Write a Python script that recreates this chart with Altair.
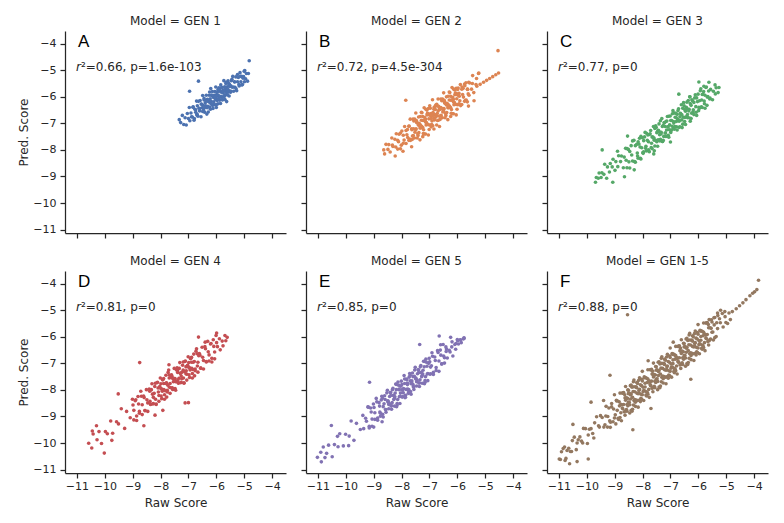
import altair as alt
import pandas as pd

# ---------------- data (read/estimated from the reference picture) ----------------
gen1_x = [
-7.33,-7.28,-7.22,-7.17,-7.12,-7.08,-7.04,-7.00,-6.97,-6.95,-6.91,-6.96,-6.86,-6.83,-6.80,-6.77,-6.74,-6.71,-6.70,
-6.68,-6.66,-6.64,-6.62,-6.60,-6.58,-6.55,-6.53,-6.51,-6.49,-6.46,-6.44,-6.42,-6.40,-6.38,-6.36,-6.34,-6.32,-6.30,-6.28,-6.26,-6.24,-6.22,-6.21,-6.20,
-6.18,-6.17,-6.15,-6.14,-6.12,-6.11,-6.09,-6.08,-6.06,-6.05,-6.03,-6.02,-6.00,-5.99,-5.97,-5.96,-5.94,-5.93,-5.91,-5.90,-5.88,-5.87,-5.85,-5.84,-5.82,-5.81,-5.79,-5.78,-5.76,-5.75,-5.73,-5.72,-5.70,-5.69,-5.67,-5.66,-5.64,-5.63,-5.61,-5.60,-5.58,-5.57,-5.55,-5.54,-5.52,
-5.49,-5.46,-5.43,-5.41,-5.38,-5.35,-5.33,-5.30,-5.27,-5.24,-5.21,-5.18,-5.15,-5.12,-5.09,-5.06,-5.02,-4.98,-4.95,-4.92,-4.88,-4.85,-4.82,-5.00,
-6.48,-6.43,-6.38,-6.33,-6.28,-6.23,-6.18,-6.13,-6.08,-6.03,-5.98,-5.93,-5.88,-5.83,-5.78,-5.73,-5.68,-5.63,-5.58,-5.53,-5.48,
-6.89,-6.84,-6.79,-6.74,-6.69,-6.64,-6.59,-6.54,-6.49,-6.44,-6.39,-6.34,-6.29,-6.24,-6.19,-6.14,-6.09,-6.04,-5.99,-5.94,-5.89,-5.84,-5.79,-5.74,-5.69,-5.64,-5.59,-5.54,-5.49,-5.44,-5.39,-5.34,-5.29,-5.24,-5.19,-5.14,-5.09,-5.04,-4.99]
gen1_y = [
-6.86,-6.97,-6.70,-7.04,-6.79,-7.06,-6.63,-6.82,-6.40,-6.90,-6.61,-5.79,-6.76,-6.38,-6.88,-6.47,-6.58,-6.16,-6.68,
-6.34,-6.73,-5.41,-6.43,-6.53,-6.14,-6.75,-6.28,-6.41,-5.95,-6.51,-6.12,-6.58,-6.23,-6.35,-5.94,-6.65,-6.09,-6.36,-6.18,-5.94,-6.39,-6.07,-6.47,-5.69,
-6.18,-5.94,-6.31,-5.80,-6.44,-6.02,-6.19,-5.94,-6.30,-5.80,-6.04,-5.63,-6.40,-5.91,-6.14,-5.81,-6.26,-5.93,-5.66,-6.01,-6.13,-5.79,-6.25,-5.55,-5.83,-6.00,-5.65,-6.12,-5.75,-5.86,-5.39,-5.98,-5.62,-6.10,-5.76,-5.50,-5.84,-6.18,-5.62,-5.93,-5.40,-5.75,-5.50,-5.97,-5.61,
-5.78,-5.39,-5.64,-5.23,-5.79,-5.43,-5.64,-5.25,-5.77,-5.43,-5.27,-5.59,-5.09,-5.43,-5.23,-5.54,-5.24,-5.01,-5.32,-5.12,-5.41,-5.12,-4.64,-5.04,
-6.32,-6.42,-6.14,-6.41,-6.14,-6.21,-5.94,-6.32,-5.95,-6.10,-5.98,-6.09,-5.76,-5.98,-5.81,-6.01,-5.68,-5.75,-5.83,-5.54,-5.58,
-6.75,-6.39,-6.82,-6.49,-6.66,-6.17,-6.44,-6.27,-6.55,-6.06,-6.35,-6.16,-6.57,-5.82,-6.26,-5.95,-6.27,-6.02,-6.29,-5.72,-6.03,-5.67,-6.10,-5.77,-5.94,-5.45,-5.72,-5.55,-5.83,-5.34,-5.63,-5.44,-5.70,-5.16,-5.54,-5.23,-5.55,-5.30,-5.43]

gen2_x = [
-8.64,-8.61,-8.56,-8.49,-8.46,-8.41,-8.33,-8.31,-8.24,-8.21,-8.14,-8.11,-8.04,-8.01,-7.94,-7.91,-7.84,-7.81,-7.74,-7.71,-7.64,-7.61,-7.56,-7.49,-7.46,-7.41,-7.33,-7.31,-7.24,-7.21,-7.14,-7.11,-7.04,-7.01,-6.94,-6.91,-6.84,-6.81,-6.74,-6.71,-6.64,-6.61,-6.56,-6.49,-6.46,-6.41,-6.33,-6.31,-6.24,-6.21,-6.14,-6.11,-6.04,-6.01,-5.94,-5.91,-5.84,-5.81,-5.74,-5.71,-5.64,-5.61,-5.56,-5.49,-5.46,-5.41,-5.33,-5.31,-5.24,
-7.78,-7.73,-7.68,-7.63,-7.58,-7.53,-7.48,-7.43,-7.38,-7.33,-7.28,-7.23,-7.18,-7.13,-7.08,-7.03,-6.98,-6.93,-6.88,-6.83,-6.78,-6.73,-6.68,-6.63,-6.58,-6.53,-6.48,-6.43,-6.38,-6.33,-6.28,-6.23,-6.18,-6.13,-6.08,-6.03,-5.98,-5.93,-5.88,-5.83,-5.78,-5.73,-5.68,-5.63,-5.58,
-7.39,-7.34,-7.29,-7.24,-7.19,-7.14,-7.09,-7.04,-6.99,-6.94,-6.89,-6.84,-6.79,-6.74,-6.69,-6.64,-6.59,-6.54,-6.49,-6.44,-6.39,-6.34,-6.29,-6.24,-6.19,-6.14,-6.09,-6.04,-5.99,
-5.30,-5.18,-5.06,-4.95,-4.84,-4.73,-4.62,-4.52,-4.54,-7.85,-5.23,-5.45,-8.23,-8.35,-7.95,-5.60,-5.40,
-8.19,-8.14,-8.09,-8.04,-7.99,-7.94,-7.89,-7.84,-7.79,-7.74,-7.69,-7.64,-7.59,-7.54,-7.49,-7.44,-7.39,-7.34,-7.29,-7.24,-7.19,-7.14,-7.09,-7.04,-6.99,-6.94,-6.89,-6.84,-6.79,-6.74,-6.69,-6.64,-6.59,-6.54,-6.49,-6.44,-6.39,-6.34,-6.29,-6.24,-6.19,-6.14,-6.09,-6.04,-5.99,-5.94,-5.89,-5.84,-5.79,-5.74,-5.69,-5.64,-5.59,
-7.62,-7.57,-7.52,-7.47,-7.42,-7.37,-7.32,-7.27,-7.22,-7.17,-7.12,-7.07,-7.02,-6.97,-6.92,-6.87,-6.82,-6.77,-6.72,-6.67,-6.62,-6.57,-6.52,-6.47,-6.42,-6.37,-6.32,-6.27,-6.22,-6.17,-6.12,-6.07,-6.02,-5.97,-5.92]
gen2_y = [
-8.00,-8.15,-7.79,-7.98,-7.80,-8.08,-7.82,-7.87,-7.60,-7.89,-7.64,-7.69,-7.36,-7.82,-7.45,-7.63,-7.27,-7.43,-7.11,-7.59,-7.20,-7.48,-6.91,-7.24,-6.97,-7.46,-7.05,-7.17,-6.74,-7.24,-6.85,-6.97,-6.44,-7.23,-6.63,-6.91,-6.47,-6.67,-6.28,-6.89,-6.44,-6.72,-6.15,-6.48,-6.21,-6.70,-6.29,-6.41,-5.98,-6.48,-6.09,-6.21,-5.68,-6.47,-5.87,-6.15,-5.71,-5.91,-5.52,-6.13,-5.71,-5.89,-5.48,-5.71,-5.50,-5.84,-5.54,-5.31,-5.12,
-7.53,-7.10,-7.64,-7.24,-7.46,-6.84,-7.20,-6.99,-7.35,-6.74,-7.11,-6.89,-7.40,-6.47,-7.03,-6.64,-7.06,-6.74,-7.09,-6.39,-6.77,-6.34,-6.88,-6.48,-6.70,-6.08,-6.44,-6.23,-6.59,-5.98,-6.35,-6.13,-6.64,-5.71,-6.27,-5.88,-6.30,-5.98,-6.33,-5.63,-6.01,-5.58,-6.12,-5.72,-5.94,
-7.07,-7.17,-6.88,-7.16,-6.88,-6.95,-6.68,-7.05,-6.69,-6.83,-6.71,-6.82,-6.48,-6.71,-6.53,-6.73,-6.40,-6.46,-6.55,-6.25,-6.31,-6.41,-6.12,-6.40,-6.12,-6.19,-5.92,-6.29,-5.93,
-5.60,-5.53,-5.45,-5.38,-5.31,-5.24,-5.17,-5.10,-4.26,-6.13,-5.10,-5.20,-8.23,-7.55,-8.05,-6.35,-6.15,
-7.39,-7.97,-7.41,-7.96,-7.29,-7.75,-7.12,-7.76,-7.23,-7.64,-6.84,-7.88,-6.84,-7.55,-6.61,-7.55,-6.76,-7.62,-6.58,-7.50,-6.41,-7.40,-6.50,-7.44,-6.34,-7.13,-6.11,-7.21,-6.35,-7.06,-6.08,-7.12,-6.08,-6.79,-5.85,-6.79,-6.00,-6.86,-5.82,-6.74,-5.65,-6.64,-5.74,-6.68,-5.72,-6.26,-5.54,-6.29,-5.68,-6.17,-5.47,-6.19,-5.45,
-7.61,-7.20,-7.33,-6.89,-7.39,-7.00,-7.12,-6.60,-7.38,-6.78,-7.06,-6.62,-6.83,-6.43,-7.04,-6.59,-6.87,-6.31,-6.63,-6.36,-6.85,-6.44,-6.57,-6.13,-6.63,-6.24,-6.36,-5.84,-6.62,-6.02,-6.30,-5.86,-6.07,-5.67,-6.28]

gen3_x = [
-9.69,-9.66,-9.59,-9.56,-9.49,-9.46,-9.39,-9.36,-9.29,-9.26,-9.19,-9.16,-9.09,-9.06,-8.99,-8.96,-8.89,-8.86,-8.79,-8.76,-8.69,-8.66,-8.59,-8.56,-8.49,-8.46,-8.39,-8.36,-8.29,-8.26,-8.19,-8.16,-8.09,-8.06,-7.99,-7.96,-7.89,-7.86,-7.79,-7.76,-7.69,-7.66,-7.59,-7.56,-7.49,-7.46,-7.39,-7.36,-7.29,-7.26,-7.19,-7.16,-7.09,-7.06,-6.99,-6.96,-6.89,-6.86,-6.79,-6.76,-6.69,-6.66,-6.59,-6.56,-6.49,-6.46,-6.39,-6.36,-6.29,-6.26,-6.19,-6.16,-6.09,-6.06,-5.99,-5.96,-5.89,-5.86,-5.79,-5.76,-5.69,-5.66,-5.59,-5.56,-5.49,-5.46,-5.39,-5.36,-5.29,-5.26,
-8.18,-8.13,-8.08,-8.03,-7.98,-7.93,-7.88,-7.83,-7.78,-7.73,-7.68,-7.63,-7.58,-7.53,-7.48,-7.43,-7.38,-7.33,-7.28,-7.23,-7.18,-7.13,-7.08,-7.03,-6.98,-6.93,-6.88,-6.83,-6.78,-6.73,-6.68,-6.63,-6.58,-6.53,-6.48,-6.43,-6.38,-6.33,-6.28,-6.23,-6.18,-6.13,-6.08,-6.03,-5.98,-5.93,-5.88,-5.83,-5.78,-5.73,-5.68,-5.63,-5.58,
-7.59,-7.54,-7.49,-7.44,-7.39,-7.34,-7.29,-7.24,-7.19,-7.14,-7.09,-7.04,-6.99,-6.94,-6.89,-6.84,-6.79,-6.74,-6.69,-6.64,-6.59,-6.54,-6.49,-6.44,-6.39,-6.34,-6.29,-6.24,
-5.98,-5.62,-5.40,-5.80,-9.45,-8.54,-9.07,-8.65,-8.30,-6.30,-7.60,-7.00,-6.70,-8.90,
-8.61,-8.56,-8.51,-8.46,-8.41,-8.36,-8.31,-8.26,-8.21,-8.16,-8.11,-8.06,-8.01,-7.96,-7.91,-7.86,-7.81,-7.76,-7.71,-7.66,-7.61,-7.56,-7.51,-7.46,-7.41,-7.36,-7.31,-7.26,-7.21,-7.16,-7.11,-7.06,-7.01,-6.96,-6.91,-6.86,-6.81,-6.76,-6.71,-6.66,-6.61,-6.56,-6.51,-6.46,-6.41,-6.36,-6.31,-6.26,-6.21,-6.16,-6.11,-6.06,-6.01,-5.96,-5.91,-5.86,-5.81,-5.76,-5.71]
gen3_y = [
-9.22,-9.04,-9.07,-8.87,-9.04,-8.86,-8.92,-8.54,-9.07,-8.64,-8.83,-8.51,-8.64,-8.35,-8.77,-8.44,-8.63,-8.22,-8.44,-8.23,-8.67,-8.27,-8.39,-7.95,-8.45,-8.06,-8.19,-7.66,-8.44,-7.84,-8.12,-7.69,-7.89,-7.49,-8.10,-7.65,-7.94,-7.37,-7.69,-7.42,-7.91,-7.51,-7.63,-7.19,-7.69,-7.30,-7.43,-6.90,-7.68,-7.08,-7.36,-6.93,-7.13,-6.73,-7.34,-6.89,-7.18,-6.61,-6.93,-6.66,-7.15,-6.75,-6.87,-6.43,-6.93,-6.54,-6.67,-6.14,-6.92,-6.32,-6.56,-6.21,-6.37,-6.04,-6.52,-6.15,-6.38,-5.91,-6.16,-5.94,-6.32,-5.99,-6.08,-5.72,-6.11,-5.79,-5.89,-5.66,-5.84,-5.65,
-8.23,-7.78,-8.32,-7.92,-8.13,-7.51,-7.86,-7.64,-8.00,-7.39,-7.75,-7.52,-8.03,-7.09,-7.65,-7.26,-7.66,-7.34,-7.68,-6.98,-7.36,-6.91,-7.45,-7.05,-7.26,-6.64,-6.99,-6.77,-7.13,-6.52,-6.88,-6.65,-7.16,-6.22,-6.78,-6.39,-6.79,-6.47,-6.81,-6.11,-6.49,-6.04,-6.58,-6.18,-6.39,-5.77,-6.12,-5.90,-6.26,-5.65,-6.01,-5.78,-6.05,
-7.55,-7.64,-7.35,-7.62,-7.33,-7.40,-7.12,-7.49,-7.12,-7.25,-7.13,-7.24,-6.89,-7.11,-6.93,-7.12,-6.79,-6.85,-6.92,-6.62,-6.68,-6.77,-6.48,-6.75,-6.46,-6.53,-6.25,-6.62,
-5.44,-5.45,-5.55,-5.60,-8.00,-7.48,-9.22,-9.01,-8.75,-6.00,-8.15,-7.70,-5.90,-8.05,
-7.94,-8.67,-7.98,-8.68,-7.84,-8.42,-7.64,-8.46,-7.79,-8.31,-7.56,-8.34,-7.54,-8.07,-7.34,-8.04,-7.44,-8.07,-7.27,-7.95,-7.12,-7.85,-7.16,-7.86,-7.02,-7.60,-6.82,-7.64,-6.97,-7.49,-6.74,-7.52,-6.72,-7.25,-6.52,-7.22,-6.62,-7.25,-6.45,-7.13,-6.30,-7.03,-6.34,-7.04,-6.20,-6.78,-6.00,-6.82,-6.15,-6.67,-5.92,-6.70,-5.90,-6.43,-5.70,-6.40,-5.80,-6.43,-5.63]

gen4_x = [
-10.58,-10.47,-10.42,-10.28,-10.21,-10.12,-9.98,-10.02,-9.91,-9.79,-9.72,-9.58,-9.51,-9.41,-9.29,-9.22,-9.09,-9.52,-10.30,-9.75,-10.45,
-8.99,-8.96,-8.89,-8.86,-8.79,-8.76,-8.69,-8.66,-8.59,-8.56,-8.49,-8.46,-8.39,-8.36,-8.29,-8.26,-8.19,-8.16,-8.09,-8.06,-7.99,-7.96,-7.89,-7.86,-7.79,-7.76,-7.69,-7.66,-7.59,-7.56,-7.49,-7.46,-7.39,-7.36,-7.29,-7.26,-7.19,-7.16,-7.09,-7.06,-6.99,-6.96,-6.89,-6.86,-6.79,-6.76,-6.69,-6.66,-6.59,-6.56,-6.49,-6.46,-6.39,-6.36,-6.29,-6.26,-6.19,-6.16,-6.09,-6.06,-5.99,-5.96,-5.89,-5.86,-5.79,-5.76,-5.69,-5.66,-5.61,
-8.38,-8.33,-8.28,-8.23,-8.18,-8.13,-8.08,-8.03,-7.98,-7.93,-7.88,-7.83,-7.78,-7.73,-7.68,-7.63,-7.58,-7.53,-7.48,-7.43,-7.38,-7.33,-7.28,-7.23,-7.18,-7.13,-7.08,-7.03,-6.98,-6.93,-6.88,-6.83,-6.78,-6.73,-6.68,-6.63,
-7.99,-7.94,-7.89,-7.84,-7.79,-7.74,-7.69,-7.64,-7.59,-7.54,-7.49,-7.44,-7.39,-7.34,-7.29,-7.24,-7.19,-7.14,-7.09,-7.04,-6.99,-6.94,-6.89,-6.84,
-8.75,-7.92,-6.64,-5.99,-7.12,-7.00,-8.60,-8.20,-6.40,-7.70,
-9.01,-8.96,-8.91,-8.86,-8.81,-8.76,-8.71,-8.66,-8.61,-8.56,-8.51,-8.46,-8.41,-8.36,-8.31,-8.26,-8.21,-8.16,-8.11,-8.06,-8.01,-7.96,-7.91,-7.86,-7.81,-7.76,-7.71,-7.66,-7.61,-7.56,-7.51,-7.46,-7.41,-7.36,-7.31,-7.26,-7.21,-7.16,-7.11,-7.06,-7.01,-6.96,-6.91,-6.86,-6.81,-6.76,-6.71,-6.66,-6.61,-6.56,-6.51,-6.46,-6.41,-6.36,-6.31,-6.26,-6.21,-6.16,-6.11,-6.06,-6.01]
gen4_y = [
-10.01,-10.19,-9.66,-9.88,-9.57,-10.02,-9.57,-10.38,-9.65,-9.17,-9.63,-9.20,-9.28,-8.71,-9.45,-8.81,-9.05,-8.15,-9.35,-9.90,-9.55,
-8.57,-8.77,-8.37,-8.98,-8.53,-8.81,-8.24,-8.56,-8.29,-8.78,-8.37,-8.49,-8.05,-8.55,-8.16,-8.28,-7.75,-8.53,-7.93,-8.21,-7.77,-7.97,-7.57,-8.18,-7.73,-8.01,-7.44,-7.76,-7.49,-7.98,-7.57,-7.69,-7.25,-7.75,-7.36,-7.48,-6.95,-7.73,-7.13,-7.41,-6.97,-7.17,-6.77,-7.38,-6.93,-7.21,-6.64,-6.96,-6.69,-7.18,-6.77,-6.89,-6.45,-6.95,-6.56,-6.68,-6.25,-6.81,-6.36,-6.57,-6.22,-6.37,-6.07,-6.49,-6.16,-6.34,-5.95,-6.15,-6.02,
-8.43,-7.99,-8.53,-8.13,-8.35,-7.73,-8.08,-7.87,-8.23,-7.62,-7.99,-7.76,-8.27,-7.34,-7.90,-7.51,-7.92,-7.60,-7.95,-7.25,-7.63,-7.19,-7.73,-7.33,-7.55,-6.93,-7.28,-7.07,-7.43,-6.82,-7.19,-6.96,-7.47,-6.54,-7.10,-6.71,
-7.95,-8.05,-7.76,-8.03,-7.75,-7.82,-7.55,-7.92,-7.55,-7.69,-7.57,-7.68,-7.34,-7.56,-7.38,-7.58,-7.25,-7.31,-7.39,-7.09,-7.15,-7.25,-6.96,-7.23,
-6.97,-8.77,-6.01,-5.86,-8.49,-8.48,-9.35,-8.95,-6.20,-7.05,
-8.35,-9.13,-8.41,-9.15,-8.25,-8.88,-8.05,-8.93,-8.23,-8.78,-7.99,-8.81,-7.97,-8.53,-7.77,-8.51,-7.87,-8.55,-7.71,-8.43,-7.55,-8.33,-7.61,-8.35,-7.45,-8.08,-7.25,-8.13,-7.43,-7.98,-7.19,-8.01,-7.17,-7.73,-6.97,-7.71,-7.07,-7.75,-6.91,-7.63,-6.75,-7.53,-6.81,-7.55,-6.65,-7.28,-6.45,-7.33,-6.63,-7.18,-6.39,-7.21,-6.37,-6.93,-6.17,-6.91,-6.27,-6.95,-6.11,-6.83,-5.95]

gen5_x = [
-11.02,-10.88,-10.81,-10.69,-10.62,-10.49,-10.41,-10.28,-10.22,-10.09,-10.01,-9.88,-9.81,-9.71,-9.62,-9.48,-10.52,-9.15,-10.90,-10.30,-10.75,-9.90,
-9.39,-9.36,-9.29,-9.26,-9.19,-9.16,-9.09,-9.06,-8.99,-8.96,-8.89,-8.86,-8.79,-8.76,-8.69,-8.66,-8.59,-8.56,-8.49,-8.46,-8.39,-8.36,-8.29,-8.26,-8.19,-8.16,-8.09,-8.06,-7.99,-7.96,-7.89,-7.86,-7.79,-7.76,-7.69,-7.66,-7.59,-7.56,-7.49,-7.46,-7.39,-7.36,-7.29,-7.26,-7.19,-7.16,-7.09,-7.06,-6.99,-6.96,-6.89,-6.86,-6.79,-6.76,-6.69,-6.66,-6.59,-6.56,-6.49,-6.46,-6.39,-6.36,-6.29,-6.26,-6.19,-6.16,-6.09,-6.06,-5.99,-5.96,-5.89,-5.86,-5.79,-5.76,
-8.78,-8.73,-8.68,-8.63,-8.58,-8.53,-8.48,-8.43,-8.38,-8.33,-8.28,-8.23,-8.18,-8.13,-8.08,-8.03,-7.98,-7.93,-7.88,-7.83,-7.78,-7.73,-7.68,-7.63,-7.58,-7.53,-7.48,-7.43,-7.38,-7.33,-7.28,-7.23,-7.18,-7.13,-7.08,-7.03,-6.98,-6.93,
-8.49,-8.44,-8.39,-8.34,-8.29,-8.24,-8.19,-8.14,-8.09,-8.04,-7.99,-7.94,-7.89,-7.84,-7.79,-7.74,-7.69,-7.64,-7.59,-7.54,-7.49,-7.44,-7.39,-7.34,-7.29,-7.24,-7.19,-7.14,
-6.65,-7.35,-6.24,-6.00,-6.40,-6.20,-6.05,-5.90,-5.76,-6.60,-9.00,-8.70,
-9.21,-9.16,-9.11,-9.06,-9.01,-8.96,-8.91,-8.86,-8.81,-8.76,-8.71,-8.66,-8.61,-8.56,-8.51,-8.46,-8.41,-8.36,-8.31,-8.26,-8.21,-8.16,-8.11,-8.06,-8.01,-7.96,-7.91,-7.86,-7.81,-7.76,-7.71,-7.66,-7.61,-7.56,-7.51,-7.46,-7.41,-7.36,-7.31,-7.26,-7.21,-7.16,-7.11,-7.06,-7.01,-6.96,-6.91,-6.86,-6.81,-6.76,-6.71,-6.66,-6.61,-6.56,-6.51,-6.46,-6.41]
gen5_y = [
-10.54,-10.71,-10.15,-10.39,-10.08,-10.52,-10.06,-10.14,-9.65,-10.11,-9.67,-9.74,-9.17,-9.90,-9.26,-9.49,-9.34,-7.71,-10.35,-9.75,-10.55,-10.10,
-8.96,-9.46,-9.07,-9.18,-8.65,-9.43,-8.83,-9.10,-8.66,-8.86,-8.45,-9.06,-8.61,-8.88,-8.31,-8.63,-8.36,-8.84,-8.43,-8.55,-8.10,-8.60,-8.21,-8.32,-7.79,-8.57,-7.97,-8.24,-7.80,-8.00,-7.59,-8.20,-7.75,-8.02,-7.45,-7.77,-7.50,-7.98,-7.57,-7.69,-7.24,-7.74,-7.35,-7.46,-6.93,-7.71,-7.11,-7.38,-6.94,-7.14,-6.73,-7.34,-6.89,-7.16,-6.59,-6.91,-6.69,-7.02,-6.72,-6.79,-6.46,-6.80,-6.51,-6.57,-6.19,-6.72,-6.29,-6.47,-6.15,-6.27,-6.11,-6.22,-6.08,-6.06,
-8.83,-8.38,-8.92,-8.52,-8.74,-8.11,-8.46,-8.25,-8.60,-7.99,-8.36,-8.12,-8.63,-7.70,-8.26,-7.86,-8.27,-7.95,-8.29,-7.59,-7.97,-7.52,-8.06,-7.66,-7.88,-7.25,-7.60,-7.39,-7.74,-7.13,-7.50,-7.26,-7.77,-6.84,-7.40,-7.00,-7.41,-7.09,
-8.41,-8.51,-8.21,-8.48,-8.20,-8.26,-7.99,-8.36,-7.99,-8.12,-8.00,-8.11,-7.76,-7.98,-7.80,-7.99,-7.66,-7.72,-7.80,-7.49,-7.55,-7.65,-7.35,-7.62,-7.34,-7.40,-7.13,-7.50,
-5.97,-6.29,-6.02,-6.10,-6.55,-6.38,-6.25,-6.12,-6.04,-6.30,-9.40,-9.20,
-8.64,-9.37,-8.68,-9.37,-8.53,-9.11,-8.32,-9.14,-8.48,-8.99,-8.24,-9.02,-8.22,-8.74,-8.01,-8.71,-8.10,-8.73,-7.94,-8.61,-7.78,-8.51,-7.82,-8.51,-7.67,-8.25,-7.46,-8.28,-7.62,-8.13,-7.38,-8.16,-7.36,-7.88,-7.15,-7.85,-7.24,-7.87,-7.08,-7.75,-6.92,-7.65,-6.96,-7.65,-6.81,-7.39,-6.60,-7.42,-6.76,-7.27,-6.52,-7.30,-6.50,-7.02,-6.29,-6.99,-6.38]

gen15_x = [
-10.99,-10.91,-10.78,-10.71,-10.59,-10.52,-10.38,-10.31,-10.19,-10.12,-9.98,-9.91,-9.79,-9.72,-9.58,-9.51,-9.39,-9.32,-9.18,-9.11,
-10.95,-10.85,-10.75,-10.65,-10.55,-10.45,-10.35,-10.25,-10.15,-10.05,-9.95,-9.85,-9.75,-9.65,-9.55,-9.45,-9.35,-9.25,-9.15,
-9.04,-9.01,-8.94,-8.91,-8.84,-8.81,-8.74,-8.71,-8.64,-8.61,-8.54,-8.51,-8.44,-8.41,-8.34,-8.31,-8.24,-8.21,-8.14,-8.11,-8.04,-8.01,-7.94,-7.91,-7.84,-7.81,-7.74,-7.71,-7.64,-7.61,-7.54,-7.51,-7.44,-7.41,-7.34,-7.31,-7.24,-7.21,-7.14,-7.11,-7.04,-7.01,-6.94,-6.91,-6.84,-6.81,-6.74,-6.71,-6.64,-6.61,-6.54,-6.51,-6.44,-6.41,-6.34,-6.31,-6.24,-6.21,-6.14,-6.11,-6.04,-6.01,-5.94,-5.91,-5.84,-5.81,-5.74,-5.71,-5.64,-5.61,-5.54,-5.51,-5.44,-5.41,-5.34,-5.31,-5.24,-5.21,-5.14,-5.11,-5.04,-5.01,
-8.98,-8.93,-8.88,-8.83,-8.78,-8.73,-8.68,-8.63,-8.58,-8.53,-8.48,-8.43,-8.38,-8.33,-8.28,-8.23,-8.18,-8.13,-8.08,-8.03,-7.98,-7.93,-7.88,-7.83,-7.78,-7.73,-7.68,-7.63,-7.58,-7.53,-7.48,-7.43,-7.38,-7.33,-7.28,-7.23,-7.18,-7.13,-7.08,-7.03,-6.98,-6.93,-6.88,-6.83,-6.78,-6.73,-6.68,-6.63,-6.58,-6.53,-6.48,-6.43,-6.38,-6.33,-6.28,-6.23,-6.18,-6.13,-6.08,-6.03,-5.98,-5.93,-5.88,-5.83,-5.78,-5.73,-5.68,-5.63,-5.58,-5.53,-5.48,-5.43,
-8.61,-8.56,-8.51,-8.46,-8.41,-8.36,-8.31,-8.26,-8.21,-8.16,-8.11,-8.06,-8.01,-7.96,-7.91,-7.86,-7.81,-7.76,-7.71,-7.66,-7.61,-7.56,-7.51,-7.46,-7.41,-7.36,-7.31,-7.26,-7.21,-7.16,-7.11,-7.06,-7.01,-6.96,-6.91,-6.86,-6.81,-6.76,-6.71,-6.66,-6.61,-6.56,-6.51,-6.46,-6.41,-6.36,-6.31,-6.26,-6.21,-6.16,-6.11,-6.06,-6.01,-5.96,-5.91,-5.86,-5.81,
-3.84,-3.90,-3.98,-4.05,-4.15,-4.29,-4.40,-4.52,-4.64,-4.78,-4.90,-5.05,-4.85,-5.20,-4.95,-5.30,
-8.54,-9.17,-9.85,-6.27,-10.50,-10.62,-10.35,-9.95,-8.35,-7.70,-9.40,-6.90,-7.80,-10.80,
-9.31,-9.26,-9.21,-9.16,-9.11,-9.06,-9.01,-8.96,-8.91,-8.86,-8.81,-8.76,-8.71,-8.66,-8.61,-8.56,-8.51,-8.46,-8.41,-8.36,-8.31,-8.26,-8.21,-8.16,-8.11,-8.06,-8.01,-7.96,-7.91,-7.86,-7.81,-7.76,-7.71,-7.66,-7.61,-7.56,-7.51,-7.46,-7.41,-7.36,-7.31,-7.26,-7.21,-7.16,-7.11,-7.06,-7.01,-6.96,-6.91,-6.86,-6.81,-6.76,-6.71,-6.66,-6.61,-6.56,-6.51,-6.46,-6.41,-6.36,-6.31,-6.26,-6.21,-6.16,-6.11,-6.06,-6.01,-5.96,-5.91,-5.86,-5.81,-5.76,-5.71,-5.66,-5.61,-5.56,-5.51,-5.46,-5.41,-5.36,-5.31,
-8.78,-8.73,-8.68,-8.63,-8.58,-8.53,-8.48,-8.43,-8.38,-8.33,-8.28,-8.23,-8.18,-8.13,-8.08,-8.03,-7.98,-7.93,-7.88,-7.83,-7.78,-7.73,-7.68,-7.63,-7.58,-7.53,-7.48,-7.43,-7.38,-7.33,-7.28,-7.23,-7.18,-7.13,-7.08,-7.03,-6.98,-6.93,-6.88,-6.83,-6.78,-6.73,-6.68,-6.63,-6.58,-6.53,-6.48,-6.43,-6.38,-6.33,-6.28,-6.23,-6.18,-6.13,-6.08,-6.03,-5.98,-5.93,-5.88,-5.83,-5.78,-5.73,-5.68,-5.63,-5.58]
gen15_y = [
-10.60,-10.33,-10.66,-10.28,-10.32,-9.91,-10.25,-9.88,-9.93,-9.45,-10.02,-9.48,-9.64,-9.24,-9.35,-8.97,-9.40,-8.98,-9.16,-8.64,
-10.62,-10.21,-10.58,-10.20,-10.32,-9.78,-10.00,-9.77,-10.00,-9.46,-9.70,-9.46,-9.81,-9.01,-9.40,-9.04,-9.31,-9.00,-9.22,
-8.72,-9.06,-8.39,-8.77,-8.45,-9.04,-8.56,-8.71,-8.18,-8.79,-8.32,-8.47,-7.84,-8.77,-8.06,-8.40,-7.88,-8.12,-7.64,-8.38,-7.84,-8.18,-7.51,-7.89,-7.57,-8.16,-7.68,-7.83,-7.30,-7.91,-7.44,-7.59,-6.96,-7.89,-7.18,-7.52,-7.00,-7.24,-6.76,-7.50,-6.96,-7.30,-6.63,-7.01,-6.69,-7.28,-6.80,-6.95,-6.42,-7.03,-6.56,-6.71,-6.08,-7.01,-6.30,-6.64,-6.12,-6.36,-5.88,-6.62,-6.08,-6.42,-5.75,-6.13,-5.81,-6.40,-5.92,-6.07,-5.54,-6.15,-5.68,-5.83,-5.28,-6.03,-5.47,-5.69,-5.32,-5.47,-5.12,-5.63,-5.24,-5.46,
-8.94,-8.42,-9.07,-8.60,-8.86,-8.12,-8.55,-8.30,-8.74,-8.00,-8.46,-8.19,-8.80,-7.69,-8.36,-7.90,-8.40,-8.01,-8.44,-7.60,-8.06,-7.54,-8.19,-7.72,-7.98,-7.24,-7.67,-7.42,-7.86,-7.12,-7.58,-7.31,-7.92,-6.81,-7.48,-7.02,-7.52,-7.13,-7.56,-6.72,-7.18,-6.66,-7.31,-6.84,-7.10,-6.36,-6.79,-6.54,-6.98,-6.24,-6.70,-6.43,-7.04,-5.93,-6.60,-6.14,-6.64,-6.25,-6.68,-5.84,-6.30,-5.78,-6.43,-5.96,-6.22,-5.48,-5.91,-5.66,-6.10,-5.36,-5.82,-5.55,
-8.39,-8.55,-8.14,-8.56,-8.15,-8.28,-7.88,-8.46,-7.92,-8.14,-7.98,-8.16,-7.66,-8.02,-7.75,-8.07,-7.59,-7.70,-7.84,-7.40,-7.51,-7.67,-7.26,-7.68,-7.27,-7.40,-7.00,-7.58,-7.04,-7.26,-7.10,-7.28,-6.78,-7.14,-6.87,-7.19,-6.71,-6.82,-6.96,-6.52,-6.63,-6.79,-6.38,-6.80,-6.39,-6.52,-6.12,-6.70,-6.16,-6.38,-6.22,-6.40,-5.90,-6.26,-5.99,-6.31,-5.83,
-3.87,-4.22,-4.30,-4.36,-4.45,-4.60,-4.72,-4.83,-4.94,-5.05,-5.10,-5.05,-5.35,-5.00,-5.50,-5.20,
-5.17,-7.45,-8.46,-7.60,-9.30,-10.78,-10.70,-10.60,-9.50,-8.70,-8.40,-6.20,-6.90,-10.15,
-8.62,-9.40,-8.68,-9.41,-8.51,-9.20,-8.18,-9.28,-8.41,-9.11,-8.12,-9.16,-8.12,-8.82,-7.87,-8.80,-8.01,-8.87,-7.82,-8.73,-7.63,-8.62,-7.72,-8.65,-7.54,-8.32,-7.30,-8.40,-7.53,-8.23,-7.24,-8.28,-7.24,-7.94,-6.99,-7.92,-7.13,-7.99,-6.94,-7.85,-6.75,-7.74,-6.84,-7.77,-6.66,-7.44,-6.42,-7.52,-6.65,-7.35,-6.36,-7.40,-6.36,-7.06,-6.11,-7.04,-6.25,-7.11,-6.06,-6.97,-5.87,-6.86,-5.96,-6.89,-5.78,-6.56,-5.54,-6.64,-5.77,-6.47,-5.48,-6.52,-5.48,-6.18,-5.35,-6.08,-5.44,-6.12,-5.27,-5.99,-5.10,
-8.54,-8.68,-8.10,-8.95,-8.30,-8.60,-8.12,-8.34,-7.90,-8.57,-8.07,-8.38,-7.76,-8.11,-7.81,-8.35,-7.90,-8.03,-7.54,-8.10,-7.66,-7.80,-7.22,-8.07,-7.42,-7.72,-7.24,-7.46,-7.02,-7.69,-7.19,-7.50,-6.88,-7.23,-6.93,-7.47,-7.02,-7.15,-6.66,-7.22,-6.78,-6.92,-6.34,-7.19,-6.54,-6.84,-6.36,-6.58,-6.14,-6.81,-6.31,-6.62,-6.00,-6.35,-6.05,-6.59,-6.14,-6.27,-5.78,-6.34,-5.90,-6.04,-5.46,-6.31,-5.66]

models = ["GEN 1", "GEN 2", "GEN 3", "GEN 4", "GEN 5", "GEN 1-5"]
letters = ["A", "B", "C", "D", "E", "F"]
stats = ["\u00b2=0.66, p=1.6e-103", "\u00b2=0.72, p=4.5e-304", "\u00b2=0.77, p=0",
         "\u00b2=0.81, p=0", "\u00b2=0.85, p=0", "\u00b2=0.88, p=0"]
colors = ["#4C72B0", "#DD8452", "#55A868", "#C44E52", "#8172B3", "#937860"]
axis_ticks = [-11, -10, -9, -8, -7, -6, -5, -4]
x_domain = [-11.43, -3.5]
y_domain = [-11.13, -3.52]

series_x = [gen1_x, gen2_x, gen3_x, gen4_x, gen5_x, gen15_x]
series_y = [gen1_y, gen2_y, gen3_y, gen4_y, gen5_y, gen15_y]

TXT = "#262626"
W, H = 221, 202


def label(text, **kw):
    return alt.Chart(pd.DataFrame({"t": [text]})).mark_text(**kw)


def panel(i):
    df = pd.DataFrame(list(zip(series_x[i], series_y[i])), columns=["raw", "pred"])
    bottom = i >= 3
    left = i % 3 == 0
    xaxis = alt.Axis(values=axis_ticks, labels=bottom, title="Raw Score" if bottom else None)
    yaxis = alt.Axis(values=axis_ticks, labels=left, title="Pred. Score" if left else None)
    pts = alt.Chart(df).mark_circle(size=13, color=colors[i], opacity=1).encode(
        x=alt.X("raw:Q", scale=alt.Scale(domain=x_domain, nice=False, zero=False), axis=xaxis),
        y=alt.Y("pred:Q", scale=alt.Scale(domain=y_domain, nice=False, zero=False), axis=yaxis),
    )
    head = label("Model = " + models[i], align="center", baseline="alphabetic",
                 font="DejaVu Sans", fontSize=12, color=TXT
                 ).encode(x=alt.value(W / 2), y=alt.value(-6), text="t:N")
    letter = label(letters[i], align="left", baseline="alphabetic",
                   font="Liberation Sans", fontSize=17, color="black"
                   ).encode(x=alt.value(13), y=alt.value(16), text="t:N")
    r_it = label("r", align="left", baseline="alphabetic", font="DejaVu Sans", fontSize=12,
                 fontStyle="italic", color=TXT
                 ).encode(x=alt.value(11), y=alt.value(40), text="t:N")
    r_rest = label(stats[i], align="left", baseline="alphabetic", font="DejaVu Sans",
                   fontSize=12, color=TXT
                   ).encode(x=alt.value(16), y=alt.value(40), text="t:N")
    return alt.layer(pts, head, letter, r_it, r_rest).properties(width=W, height=H)


chart = alt.concat(
    *[panel(i) for i in range(6)], columns=3, spacing={"row": 38, "column": 20}, bounds="flush"
).properties(
    padding={"left": 9, "top": 6, "right": 5, "bottom": 5}
).configure_view(
    stroke="transparent"
).configure_axis(
    grid=False, domainColor=TXT, domainWidth=1.25, tickColor=TXT, tickWidth=1.25, tickSize=5,
    labelFont="DejaVu Sans", labelFontSize=11, labelColor=TXT,
    titleFont="DejaVu Sans", titleFontSize=12, titleColor=TXT, titleFontWeight="normal",
).configure_axisX(
    labelPadding=2, titlePadding=6
).configure_axisY(
    labelPadding=4, titlePadding=2
)

chart.save("out.html", embed_options={"renderer": "svg", "actions": False})
